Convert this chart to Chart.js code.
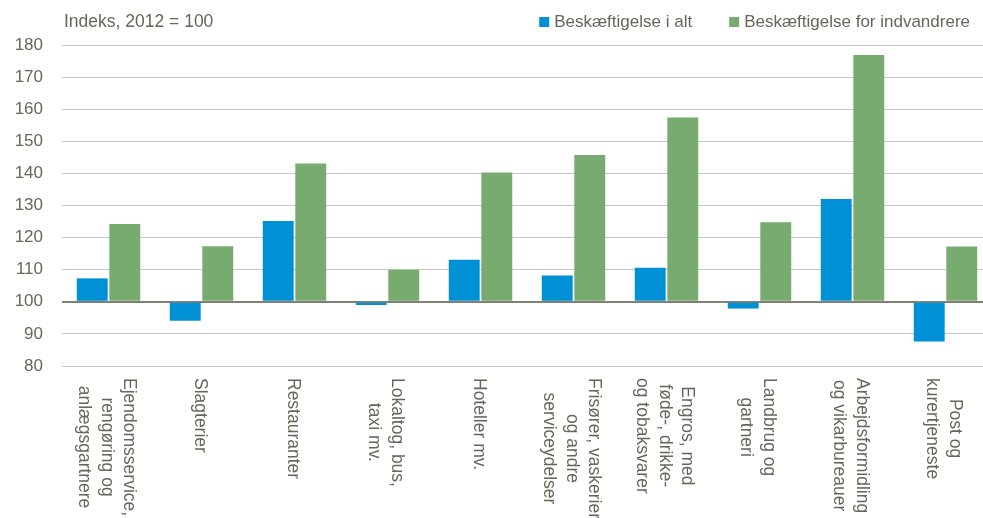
<!DOCTYPE html>
<html lang="da">
<head>
  <meta charset="UTF-8" />
  <title>Beskæftigelse, indeks 2012 = 100</title>
  <script src="https://cdn.jsdelivr.net/npm/chart.js"></script>
  <style>
    html, body { margin: 0; padding: 0; background: #fff; overflow: hidden; }
    /* plot runs a little past the right edge of the window, as in the source */
    .chart-box { width: 992px; height: 518px; position: relative; }
  </style>
</head>
<body>
  <div class="chart-box">
    <canvas id="jobChart"></canvas>
  </div>

  <script>
    // categories (one array of lines per label)
    const categories = [
      ['Ejendomsservice,', 'rengøring og', 'anlægsgartnere'],
      ['Slagterier'],
      ['Restauranter'],
      ['Lokaltog, bus,', 'taxi mv.'],
      ['Hoteller mv.'],
      ['Frisører, vaskerier', 'og andre', 'serviceydelser'],
      ['Engros, med', 'føde-, drikke-', 'og tobaksvarer'],
      ['Landbrug og', 'gartneri'],
      ['Arbejdsformidling', 'og vikarbureauer'],
      ['Post og', 'kurertjeneste']
    ];
    const seriesNames = ['Beskæftigelse i alt', 'Beskæftigelse for indvandrere'];
    const totalValues = [107.3, 94.1, 125.2, 99.0, 113.1, 108.2, 110.6, 97.9, 132.0, 87.6];
    const immigrantValues = [124.2, 117.3, 143.1, 110.0, 140.3, 145.7, 157.4, 124.8, 176.9, 117.2];
    const yTicks = [80, 90, 100, 110, 120, 130, 140, 150, 160, 170, 180];
    const baseValue = 100;
    const unitNote = 'Indeks, 2012 = 100';

    const textColor = '#66665a';
    const fontFamily = "'Liberation Sans', Arial, sans-serif";

    // draws rotated category labels, the unit note and the legend
    const decorations = {
      id: 'decorations',
      afterDraw(chart) {
        const ctx = chart.ctx;
        const x = chart.scales.x;
        const area = chart.chartArea;
        ctx.save();
        ctx.fillStyle = textColor;
        ctx.font = '17.5px ' + fontFamily;

        // category labels, turned 90° clockwise
        const lh = 22.5;
        categories.forEach((lines, i) => {
          const cx = x.getPixelForValue(i) - 2;
          const w = Math.max(...lines.map(l => ctx.measureText(l).width));
          ctx.save();
          ctx.translate(cx, 378);
          ctx.rotate(Math.PI / 2);
          ctx.textAlign = 'center';
          ctx.textBaseline = 'middle';
          lines.forEach((l, j) => {
            ctx.fillText(l, w / 2, (j - (lines.length - 1) / 2) * lh);
          });
          ctx.restore();
        });

        // unit note top left
        ctx.textAlign = 'left';
        ctx.textBaseline = 'middle';
        ctx.fillText(unitNote, area.left + 2, 22);

        // legend, right aligned
        ctx.font = '17px ' + fontFamily;
        const ds = chart.data.datasets;
        let right = area.right - 22;
        for (let i = ds.length - 1; i >= 0; i--) {
          const tw = ctx.measureText(ds[i].label).width;
          const textX = right - tw;
          const boxX = textX - 15;
          ctx.fillStyle = ds[i].backgroundColor;
          ctx.fillRect(boxX, 17, 10, 10);
          ctx.fillStyle = textColor;
          ctx.fillText(ds[i].label, textX, 22);
          right = boxX - 37;
        }
        ctx.restore();
      }
    };

    new Chart(document.getElementById('jobChart'), {
      type: 'bar',
      data: {
        labels: categories.map(c => c.join(' ')),
        datasets: [
          {
            label: seriesNames[0],
            data: totalValues,
            base: baseValue,
            backgroundColor: '#0090d6',
            categoryPercentage: 0.70,
            barPercentage: 0.95
          },
          {
            label: seriesNames[1],
            data: immigrantValues,
            base: baseValue,
            backgroundColor: '#77ab70',
            categoryPercentage: 0.70,
            barPercentage: 0.95
          }
        ]
      },
      options: {
        responsive: true,
        maintainAspectRatio: false,
        animation: false,
        layout: { padding: { top: 45, bottom: 152, left: 0, right: 0 } },
        plugins: {
          legend: { display: false },
          tooltip: { enabled: false }
        },
        scales: {
          x: {
            ticks: { display: false },
            grid: { display: false, drawTicks: false },
            border: { display: false }
          },
          y: {
            min: yTicks[0],
            max: yTicks[yTicks.length - 1],
            afterBuildTicks: s => { s.ticks = yTicks.map(v => ({ value: v })); },
            afterFit: s => { s.width = 62; },
            ticks: {
              color: textColor,
              font: { size: 17, family: fontFamily },
              padding: 19
            },
            grid: {
              drawTicks: false,
              color: c => (c.tick && c.tick.value === baseValue ? '#808074' : '#cacac2'),
              lineWidth: c => (c.tick && c.tick.value === baseValue ? 2 : 1)
            },
            border: { display: false }
          }
        }
      },
      plugins: [decorations]
    });
  </script>
</body>
</html>
